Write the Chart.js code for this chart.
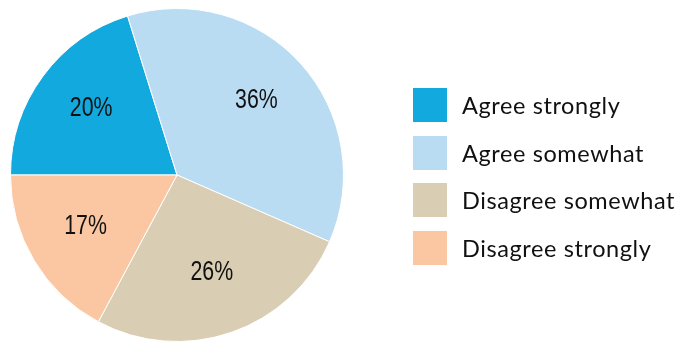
<!DOCTYPE html>
<html lang="en">
  <head>
    <meta charset="utf-8" />
    <title>Agree / disagree pie</title>
    <style>
      * {
        margin: 0;
        padding: 0;
      }
      body {
        background: white;
        width: 675px;
        height: 342px;
        overflow: hidden;
      }
      .chartBox {
        position: relative;
        width: 675px;
        height: 342px;
      }
      #legend {
        position: absolute;
        left: 413px;
        top: 88px;
        list-style: none;
        font-family: Lato, "Open Sans", sans-serif;
        font-size: 23.5px;
        letter-spacing: 0.6px;
        color: #111;
        white-space: nowrap;
      }
      #legend li {
        display: flex;
        align-items: center;
        height: 34px;
        margin-bottom: 13.7px;
      }
      #legend span {
        display: inline-block;
        width: 34px;
        height: 34px;
        margin-right: 15px;
      }
    </style>
  </head>
  <body>
    <div class="chartBox">
      <canvas id="myChart" width="675" height="342"></canvas>
      <ul id="legend"></ul>
    </div>

    <script src="https://cdn.jsdelivr.net/npm/chart.js"></script>
    <script>
      // data
      const categories = [
        "Agree strongly",
        "Agree somewhat",
        "Disagree somewhat",
        "Disagree strongly",
      ];
      const shares = [20, 36, 26, 17];
      const colors = ["#12a9de", "#badcf3", "#d9cdb3", "#fbc7a3"];

      // percent labels inside the slices (condensed by a horizontal scale)
      const sliceLabels = {
        id: "sliceLabels",
        afterDatasetsDraw(chart, args, options) {
          const { ctx } = chart;
          const arcs = chart.getDatasetMeta(0).data;
          arcs.forEach((arc, i) => {
            const { x, y, startAngle, endAngle, outerRadius } = arc.getProps(
              ["x", "y", "startAngle", "endAngle", "outerRadius"],
              true
            );
            const mid = (startAngle + endAngle) / 2;
            const r = outerRadius * options.distance;
            ctx.save();
            ctx.translate(
              x + Math.cos(mid) * r,
              y + Math.sin(mid) * r + options.shiftY
            );
            ctx.scale(options.squeeze, 1);
            ctx.font = options.font;
            ctx.fillStyle = options.color;
            ctx.textAlign = "center";
            ctx.textBaseline = "middle";
            ctx.fillText(chart.data.datasets[0].data[i] + "%", 0, 0);
            ctx.restore();
          });
        },
      };

      const config = {
        type: "pie",
        data: {
          labels: categories,
          datasets: [
            {
              data: shares,
              backgroundColor: colors,
              borderColor: "#ffffff",
              borderWidth: 1,
            },
          ],
        },
        options: {
          responsive: false,
          animation: false,
          rotation: 270,
          layout: {
            padding: { left: 10, top: 8, right: 331, bottom: 0 },
          },
          plugins: {
            legend: { display: false },
            tooltip: { enabled: false },
            sliceLabels: {
              font: '27px "Liberation Sans", Arial, sans-serif',
              color: "#111111",
              distance: 0.64,
              shiftY: -3,
              squeeze: 0.79,
            },
          },
        },
        plugins: [sliceLabels],
      };

      const myChart = new Chart(document.getElementById("myChart"), config);

      // html legend built from the same arrays
      const legend = document.getElementById("legend");
      categories.forEach((name, i) => {
        const li = document.createElement("li");
        const box = document.createElement("span");
        box.style.background = colors[i];
        li.appendChild(box);
        li.appendChild(document.createTextNode(name));
        legend.appendChild(li);
      });
    </script>
  </body>
</html>
